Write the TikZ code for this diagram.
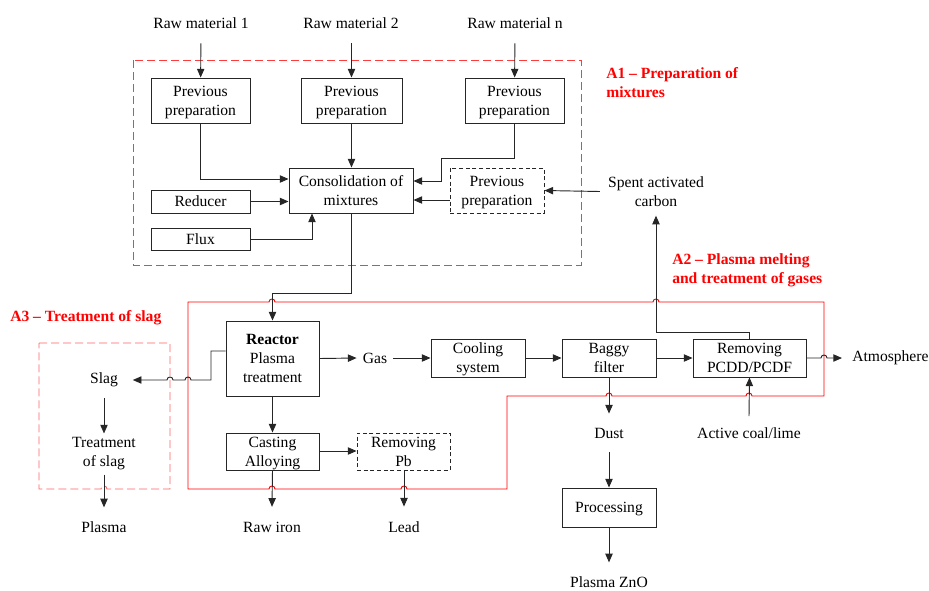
\documentclass[tikz,border=0pt]{standalone}
\usepackage{fontspec}
\setmainfont{Liberation Serif}
\usetikzlibrary{arrows.meta}
\definecolor{rone}{RGB}{255,60,60}
\definecolor{rthree}{RGB}{255,100,100}
\begin{document}
\begin{tikzpicture}[x=0.75pt,y=-0.75pt,
  font=\fontsize{11.7}{14.2}\selectfont,
  ln/.style={draw=black!85,line width=0.7pt},
  box/.style={ln,fill=white,align=center,inner sep=0pt,text depth=0pt},
  dbox/.style={box,dash pattern=on 3pt off 2pt},
  sz/.style 2 args={minimum width=#1*0.75pt,minimum height=#2*0.75pt},
  txt/.style={align=center,inner sep=2pt},
  arr/.style={ln,-{Triangle[length=6.5pt,width=5.5pt]}},
  redl/.style={draw=red,line width=0.7pt},
  redd/.style={draw=rone,line width=0.7pt,dash pattern=on 6pt off 3pt},
  reddl/.style={draw=rthree,line width=0.7pt,dash pattern=on 6pt off 3pt},
  lab/.style={text=red,font=\fontsize{11.7}{14.2}\selectfont\bfseries,align=left,anchor=west,inner sep=0pt}]
\useasboundingbox (0,0) rectangle (929,590);

% ---- regions ----
\draw[redd] (133,60) rectangle (581,265);
\draw[redl] (188,302) -- (269,302) .. controls (269,298) and (275,298) .. (275,302)
  -- (653,302) .. controls (653,298) and (659,298) .. (659,302)
  -- (824,302) -- (824,396)
  -- (752,396) .. controls (752,392) and (746,392) .. (746,396)
  -- (612,396) .. controls (612,392) and (606,392) .. (606,396)
  -- (507,396) -- (507,489)
  -- (407,489) .. controls (407,485) and (401,485) .. (401,489)
  -- (275,489) .. controls (275,485) and (269,485) .. (269,489)
  -- (188,489) -- cycle;
\draw[reddl] (39,343) -- (170,343) -- (170,489)
  -- (107,489) .. controls (107,485) and (101,485) .. (101,489)
  -- (39,489) -- cycle;

\node[lab] (la1) at (606,82.5) {A1 -- Preparation of\\mixtures};
\node[lab] (la2) at (672,270) {A2 -- Plasma melting\\and treatment of gases};
\node[lab] (la3) at (10,318) {A3 -- Treatment of slag};

% ---- text nodes ----
\node[txt,inner ysep=11pt] (rm1) at (201,23) {Raw material 1};
\node[txt,inner ysep=11pt] (rm2) at (351,23) {Raw material 2};
\node[txt,inner ysep=11pt] (rmn) at (515,23) {Raw material n};
\node[txt,inner xsep=6pt,inner ysep=6.7pt] (sac) at (656,191.5) {Spent activated\\carbon};
\node[txt,inner xsep=4.5pt] (gas) at (375,358) {Gas};
\node[txt,inner xsep=7.5pt,anchor=west] (atm) at (842,358) {Atmosphere};
\node[txt,inner ysep=10.5pt] (dust) at (609,433) {Dust};
\node[txt,inner ysep=8.3pt] (acl) at (749,433) {Active coal/lime};
\node[txt,inner ysep=10.4pt] (zno) at (609,582) {Plasma ZnO};
\node[txt,inner xsep=11pt,inner ysep=8pt] (slag) at (104,380) {Slag};
\node[txt,inner ysep=3pt] (tslag) at (104,454) {Treatment\\of slag};
\node[txt,inner ysep=10.4pt] (plasma) at (104,527) {Plasma};
\node[txt,inner ysep=11pt] (iron) at (272,527) {Raw iron};
\node[txt,inner ysep=11pt] (lead) at (404,527) {Lead};

% ---- boxes ----
\node[box,sz={99}{45}] (pp1) at (200.5,100.5) {Previous\\preparation};
\node[box,sz={101}{45}] (pp2) at (351.5,100.5) {Previous\\preparation};
\node[box,sz={99}{45}] (pp3) at (514.5,100.5) {Previous\\preparation};
\node[box,sz={124}{45}] (cons) at (351,190.5) {Consolidation of\\mixtures};
\node[dbox,sz={94}{45}] (ppd) at (497,190.5) {Previous\\preparation};
\node[box,sz={99}{23}] (red) at (200.5,201.5) {Reducer};
\node[box,sz={99}{22}] (flux) at (200.5,239) {Flux};
\node[box,sz={93}{75}] (reactor) at (272.5,358.5) {\textbf{Reactor}\\Plasma\\treatment};
\node[box,sz={94}{38}] (cool) at (478,358) {Cooling\\system};
\node[box,sz={94}{38}] (bag) at (609,358) {Baggy\\filter};
\node[box,sz={113}{38}] (rem) at (749.5,358) {Removing\\PCDD/PCDF};
\node[box,sz={93}{37}] (cast) at (272.5,451.5) {Casting\\Alloying};
\node[dbox,sz={93}{37}] (rpb) at (403.5,451.5) {Removing\\Pb};
\node[box,sz={94}{39}] (proc) at (609,507.5) {Processing};

\coordinate (k1) at (441,158);

% ---- connectors ----
\draw[arr] (rm1) -- (pp1);
\draw[arr] (rm2.south -| pp2.north) -- (pp2.north);
\draw[arr] (rmn) -- (pp3);
\draw[arr] (pp1.south) |- (cons.west |- 0,179);
\draw[arr] (pp2.south) -- (cons.north -| pp2.south);
\draw[arr] (pp3.south) |- (k1) |- (cons.east |- 0,181);
\draw[arr] (red.east) -- (red.east -| cons.west);
\draw[arr] (flux.east) -| (cons.south -| 312,0);
\draw[arr] (ppd.west |- 0,200) -- (cons.east |- 0,200);
\draw[arr] (sac.west) -- (ppd.east);
\draw[arr] (cons.south) |- (reactor.north |- 0,293) -- (reactor.north);
\draw[arr] (reactor.east) -- (gas.west);
\draw[arr] (gas.east) -- (cool.west);
\draw[arr] (cool.east) -- (bag.west);
\draw[arr] (bag.east) -- (rem.west);
\draw[arr] (rem.east) -- (821,358) .. controls (821,354) and (827,354) .. (827,358) -- (atm.west);
\draw[arr] (rem.north) |- (sac.south |- 0,332) -- (sac.south);
\draw[arr] (acl.north) -- (rem.south);
\draw[arr] (bag.south) -- (dust.north);
\draw[arr] (dust.south) -- (proc.north);
\draw[arr] (proc.south) -- (zno.north);
\draw[arr] (reactor.south) -- (cast.north);
\draw[arr] (cast.east |- 0,451) -- (rpb.west |- 0,451);
\draw[arr] (cast.south) -- (iron.north);
\draw[arr] (rpb.south -| lead.north) -- (lead.north);
\draw[arr] (reactor.west |- 0,351) -| (211,380) -- (191,380)
  .. controls (191,376) and (185,376) .. (185,380) -- (173,380)
  .. controls (173,376) and (167,376) .. (167,380) -- (slag.east);
\draw[arr] (slag.south) -- (tslag.north);
\draw[arr] (tslag.south) -- (plasma.north);
\end{tikzpicture}
\end{document}
